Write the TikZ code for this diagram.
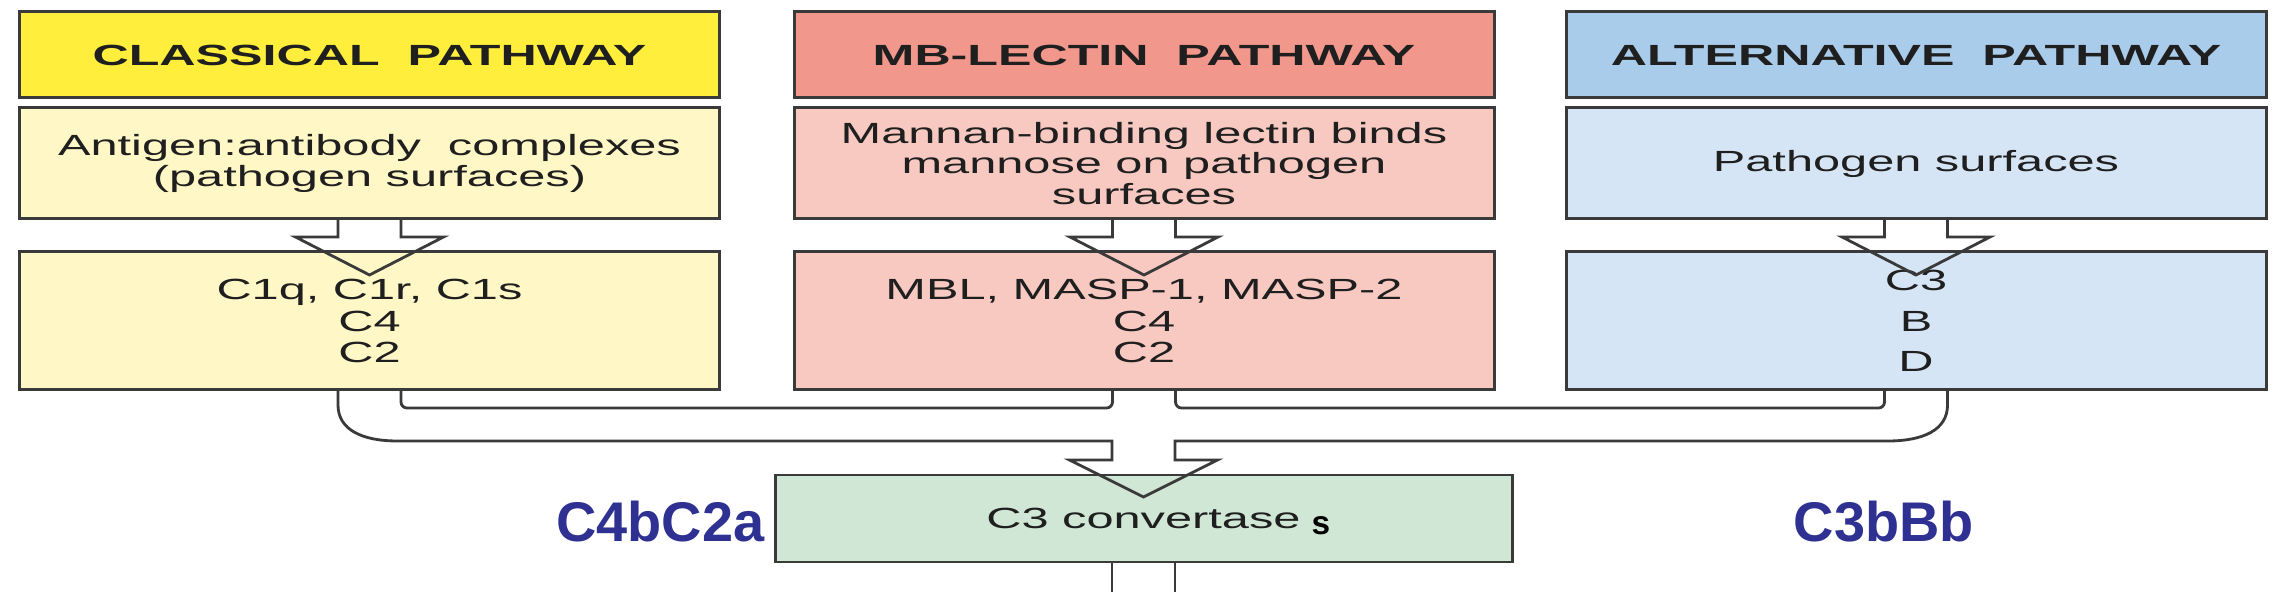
\documentclass[tikz,border=0pt]{standalone}
\usepackage{fontspec}
\setmainfont{Liberation Sans}
\newfontfamily\widefont[FakeStretch=1.67]{Liberation Sans}
\newfontfamily\headfont[FakeStretch=1.72]{Liberation Sans}
\definecolor{ink}{HTML}{3A3A3A}
\definecolor{classtitle}{HTML}{FFEF3C}
\definecolor{classbody}{HTML}{FFF8C6}
\definecolor{lectitle}{HTML}{F2978B}
\definecolor{lecbody}{HTML}{F8C9C1}
\definecolor{alttitle}{HTML}{AACCEB}
\definecolor{altbody}{HTML}{D6E5F5}
\definecolor{convfill}{HTML}{CFE7D4}
\definecolor{labblue}{HTML}{2E3192}
\usetikzlibrary{calc, positioning}

\begin{document}
\begin{tikzpicture}[x=0.1mm, y=-0.1mm,
  box/.style={draw=ink, line width=0.85pt, inner sep=0pt, outer sep=0pt, minimum width=70mm, align=center, text=black!88},
  titlebox/.style={box, minimum height=8.6mm, font=\headfont\bfseries\fontsize{8.3}{10}\selectfont},
  srcbox/.style={box, minimum height=11.1mm, font=\widefont\fontsize{8.3}{8.6}\selectfont},
  compbox/.style={box, minimum height=13.8mm, font=\widefont\fontsize{8.3}{9}\selectfont},
  link/.style={draw=ink, line width=0.8pt, line join=miter},
  convlabel/.style={text=labblue, inner sep=0pt, font=\bfseries\fontsize{15.9}{18}\selectfont}]
  \useasboundingbox (0,0) rectangle (2285,601);

  \node[titlebox, fill=classtitle] (t1) at (369.5,55) {CLASSICAL~~PATHWAY};
  \node[titlebox, fill=lectitle] (t2) at (1144,55) {MB-LECTIN~~PATHWAY};
  \node[titlebox, fill=alttitle] (t3) at (1916,55) {ALTERNATIVE~~PATHWAY};

  \node[srcbox, fill=classbody] (s1) at (369.5,163.5) {Antigen:antibody~~complexes\\(pathogen surfaces)};
  \node[srcbox, fill=lecbody] (s2) at (1144,163.5) {Mannan-binding lectin binds\\mannose on pathogen\\surfaces};
  \node[srcbox, fill=altbody] (s3) at (1916,163.5) {Pathogen surfaces};

  \node[compbox, fill=classbody] (c1) at (369.5,321) {C1q, C1r, C1s\\C4\\C2};
  \node[compbox, fill=lecbody] (c2) at (1144,321) {MBL, MASP-1, MASP-2\\C4\\C2};
  \node[compbox, fill=altbody] (c3) at (1916,321) {C3\\[2.5pt]B\\[2.5pt]D};

  \node[box, fill=convfill, minimum width=73.7mm, minimum height=8.7mm, font=\widefont\fontsize{8.3}{9}\selectfont] (conv) at (1143.5,518.5) {C3 convertase};
  \node[anchor=base west, inner sep=0pt, font=\bfseries\fontsize{9.5}{10}\selectfont] (plural) at (1311,535) {s};

  \node[convlabel, anchor=base east] (classconv) at (765,542) {C4bC2a};
  \node[convlabel, anchor=base west] (altconv) at (1793,542) {C3bBb};

  \foreach \n in {1,2,3}
    \draw[link] ($(s\n.south)+(-31.5,0)$) -- ++(0,18) -- ++(-42.5,0) -- ($(c\n.north)+(0,23)$)
      -- ($(s\n.south)+(74,18)$) -- ++(-42.5,0) -- ++(0,-18);

  \draw[link, rounded corners=0.6mm] ($(c1.south)+(31.5,0)$) -- ++(0,18) -| ($(c2.south)+(-31.5,0)$);
  \draw[link, rounded corners=0.6mm] ($(c2.south)+(31.5,0)$) -- ++(0,18) -| ($(c3.south)+(-31.5,0)$);

  \draw[link] ($(c1.south)+(-31.5,0)$) -- ++(0,15) .. controls +(0,25) and +(-35,0) .. ($(c1.south)+(28,51)$)
    -- ($(conv.north)+(-31.5,-34)$) -- ++(0,19) -- ++(-42.5,0) -- ($(conv.north)+(0,22)$)
    -- ($(conv.north)+(74,-15)$) -- ++(-42.5,0) -- ++(0,-19)
    -- ($(c3.south)+(-28,51)$) .. controls +(35,0) and +(0,25) .. ($(c3.south)+(31.5,15)$) -- ($(c3.south)+(31.5,0)$);

  \draw[link] ($(conv.south)+(-31.5,0)$) -- ++(0,30);
  \draw[link] ($(conv.south)+(31.5,0)$) -- ++(0,30);
\end{tikzpicture}
\end{document}
